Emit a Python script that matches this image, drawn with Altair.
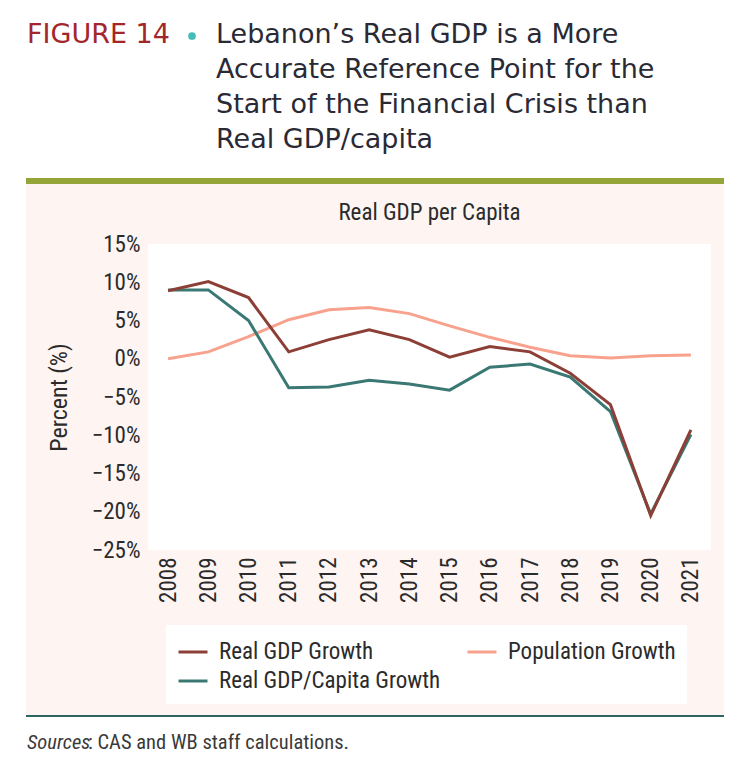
import altair as alt
import pandas as pd

years = [str(y) for y in range(2008, 2022)]
real_gdp_growth = [8.9, 10.1, 8.0, 0.9, 2.5, 3.8, 2.5, 0.2, 1.6, 0.9, -1.9, -6.0, -20.5, -9.3]
gdp_capita_growth = [9.0, 9.0, 5.0, -3.8, -3.7, -2.8, -3.3, -4.1, -1.1, -0.7, -2.4, -6.9, -20.3, -9.9]
population_growth = [0.0, 0.9, 2.9, 5.1, 6.4, 6.7, 5.9, 4.3, 2.8, 1.5, 0.4, 0.1, 0.4, 0.5]

series_names = ["Real GDP Growth", "Population Growth", "Real GDP/Capita Growth"]
series_colors = ["#8C3F36", "#F8A28E", "#3A7874"]

rows = []
for name, vals in zip(series_names, [real_gdp_growth, population_growth, gdp_capita_growth]):
    for y, v in zip(years, vals):
        rows.append({"Year": y, "Series": name, "Value": v})
df = pd.DataFrame(rows)

header_lines = ["Lebanon\u2019s Real GDP is a More",
                "Accurate Reference Point for the",
                "Start of the Financial Crisis than",
                "Real GDP/capita"]

W, H = 563, 306
NARROW = "Liberation Sans Narrow, Arial Narrow, Roboto Condensed, sans-serif"
HEAD = "DejaVu Sans, Open Sans, sans-serif"

one = alt.Data(values=[{"k": 1}])

def rect(x1, x2, y1, y2, color):
    return alt.Chart(one).mark_rect(color=color).encode(
        x=alt.value(x1), x2=alt.value(x2), y=alt.value(y1), y2=alt.value(y2))

def text(x, y, t, **kw):
    return alt.Chart(one).mark_text(**kw).encode(
        x=alt.value(x), y=alt.value(y), text=alt.value(t))

panel = rect(-122, 576, -60, 472, "#FEF5F3")
olive = rect(-122, 576, -66, -60, "#95A53A")
teal_rule = rect(-122, 576, 471, 473, "#2D6660")
plot_bg = rect(0, W, 0, H, "#FFFFFF")

fig_label = text(-121, -201, "FIGURE 14", font=HEAD, fontSize=27, color="#A2262A",
                 align="left", baseline="alphabetic")
bullet = alt.Chart(one).mark_point(filled=True, color="#45BDB6", size=60, opacity=1).encode(
    x=alt.value(44), y=alt.value(-208))
head_title = text(68, -201, header_lines, font=HEAD, fontSize=27, color="#2A2A35",
                  align="left", baseline="alphabetic", lineHeight=35)
chart_title = text(W / 2, -31, "Real GDP per Capita", font=NARROW, fontSize=23,
                   color="#2B2B2B", align="center", baseline="middle")
src_a = text(-121, 499, "Sources", font=NARROW, fontSize=20.5, fontStyle="italic",
             color="#3A3A3A", align="left", baseline="middle")
src_b = text(-60, 499, ": CAS and WB staff calculations.", font=NARROW, fontSize=20.5,
             color="#3A3A3A", align="left", baseline="middle")

color = alt.Color("Series:N",
                  scale=alt.Scale(domain=series_names, range=series_colors),
                  legend=alt.Legend(title=None, orient="none", legendX=18, legendY=381,
                                    columns=2, direction="horizontal",
                                    fillColor="#FFFFFF", padding=11,
                                    symbolType="stroke", symbolSize=841,
                                    symbolStrokeWidth=3, labelFont=NARROW,
                                    labelFontSize=23, labelColor="#2B2B2B",
                                    labelOffset=10, columnPadding=20, rowPadding=1,
                                    labelLimit=400))

x = alt.X("Year:O", scale=alt.Scale(type="point", padding=0.5), title=None,
          axis=alt.Axis(labelAngle=-90, labelFont=NARROW, labelFontSize=23,
                        labelColor="#2B2B2B", ticks=False, domain=False, grid=False,
                        labelPadding=7, zindex=1))
y = alt.Y("Value:Q", scale=alt.Scale(domain=[-25, 15], nice=False),
          title="Percent (%)",
          axis=alt.Axis(values=list(range(-25, 20, 5)),
                        labelExpr="replace(format(datum.value, 'd'), '-', '\u2212') + '%'",
                        labelFont=NARROW, labelFontSize=23, labelColor="#2B2B2B",
                        titleFont=NARROW, titleFontSize=24, titleColor="#2B2B2B",
                        titleFontWeight="normal", titlePadding=20,
                        ticks=False, domain=False, grid=False, labelPadding=8, zindex=1))

base = alt.Chart(df).mark_line(strokeWidth=3).encode(x=x, y=y, color=color)
lines = [base.transform_filter(alt.datum.Series == s)
         for s in ["Population Growth", "Real GDP/Capita Growth", "Real GDP Growth"]]

chart = alt.layer(panel, olive, teal_rule, plot_bg, *lines,
                  fig_label, bullet, head_title, chart_title, src_a, src_b).properties(
    width=W, height=H,
    autosize=alt.AutoSizeParams(type="none"),
    padding={"left": 140, "top": 236, "right": 22, "bottom": 215},
).configure_view(stroke=None).configure(background="#FFFFFF")

chart.save("out.html", embed_options={"renderer": "svg", "actions": False})
